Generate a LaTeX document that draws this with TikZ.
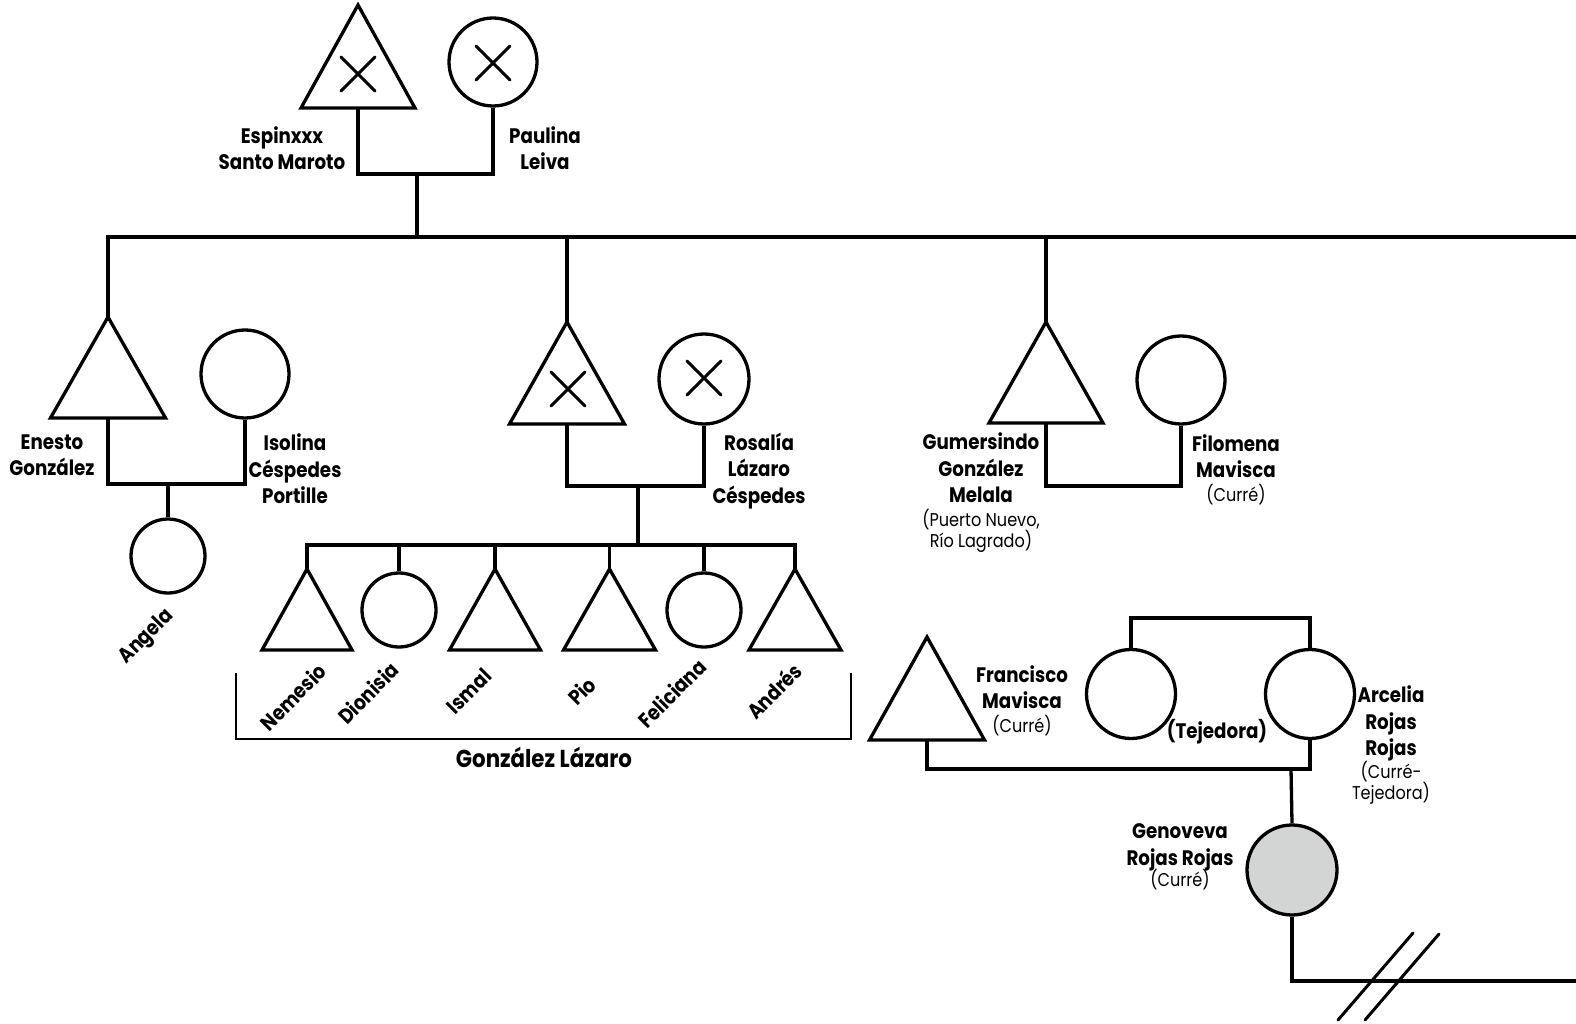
\documentclass[tikz,border=0pt]{standalone}
\usepackage{fontspec}
\setmainfont{Poppins}[FakeStretch=0.87]
\definecolor{genfill}{HTML}{D3D4D4}
\tikzset{
  ln/.style={line width=3.3pt},
  circ/.style={circle, draw, line width=3.3pt, inner sep=0pt, minimum size=#1},
  crs/.style={line width=3pt, line cap=round},
  nm/.style={font=\bfseries\fontsize{21}{26.5}\selectfont, align=center, inner sep=0pt},
  bracketline/.style={line width=1.3pt},
}
\newcommand\sub[1]{{\mdseries\fontsize{18.5}{21}\selectfont #1}}
\newcommand\Tri[5]{%
  \draw[ln, line join=miter] ({#2},{#3}) -- ({#2+#4},{#3+#5}) -- ({#2-#4},{#3+#5}) -- cycle;
  \coordinate (#1-t) at ({#2},{#3});
  \coordinate (#1-b) at ({#2},{#3+#5});}
\newcommand\Crs[2]{\draw[crs] ({#1-17},{#2-17}) -- ({#1+17},{#2+17}) ({#1-17},{#2+17}) -- ({#1+17},{#2-17});}
\begin{document}
\begin{tikzpicture}[x=1pt,y=-1pt]
\useasboundingbox (0,0) rectangle (1576,1024);
% ---- top couple
\Tri{esp}{358}{5}{57}{103}
\Crs{358}{74}
\node[circ=88pt] (pau) at (493,62) {};
\Crs{493}{63}
\coordinate (m1) at (417,174);
\coordinate (g1) at (417,237);
\coordinate (genR) at (1576,237);
\draw[ln] (esp-b) |- (m1) -| (pau.south);
\draw[ln] (m1) -- (g1);
% ---- generation line and Enesto couple
\Tri{ene}{108}{317}{57.5}{101}
\draw[ln] (ene-t) |- (genR);
\node[circ=88pt] (iso) at (245,374) {};
\coordinate (m2) at (168,484);
\draw[ln] (ene-b) |- (m2) -| (iso.south);
\node[circ=74pt] (ang) at (168,556) {};
\draw[ln] (m2) -- (ang.north);
% ---- Rosalia couple
\Tri{rm}{567}{322}{57.5}{102}
\Crs{568}{389}
\draw[ln] (rm-t) -- (rm-t |- g1);
\node[circ=90pt] (ros) at (704,379) {};
\Crs{704}{378}
\coordinate (m3) at (638,486);
\coordinate (c3) at (638,545);
\draw[ln] (rm-b) |- (m3) -| (ros.south);
\draw[ln] (m3) -- (c3);
% children
\Tri{nem}{307}{569}{45}{81}
\node[circ=74pt] (dio) at (399,610) {};
\Tri{ism}{495}{569}{45.5}{81}
\Tri{pio}{609.5}{569}{46}{81}
\node[circ=74pt] (fel) at (704,610) {};
\Tri{and}{795}{569}{46}{81}
\draw[ln] (nem-t) |- (c3) -| (and-t);
\draw[ln] (dio.north) -- (dio.north |- c3);
\draw[ln] (ism-t) -- (ism-t |- c3);
\draw[ln] (pio-t) -- (pio-t |- c3);
\draw[ln] (fel.north) -- (fel.north |- c3);
\draw[bracketline] (236,673) -- (236,739) -- (851,739) -- (851,673);
% ---- Gumersindo couple
\Tri{gum}{1046}{322}{57}{101}
\draw[ln] (gum-t) -- (gum-t |- g1);
\node[circ=88pt] (fil) at (1181,380) {};
\coordinate (m4) at (1113,486);
\draw[ln] (gum-b) |- (m4) -| (fil.south);
% ---- Francisco / Arcelia
\Tri{fra}{927}{637}{57.5}{103}
\node[circ=89pt] (tej) at (1131,694) {};
\node[circ=89pt] (arc) at (1310,694) {};
\coordinate (s5) at (1220,618);
\draw[ln] (tej.north) |- (s5) -| (arc.north);
\coordinate (m5) at (1291,769);
\draw[ln] (fra-b) |- (m5) -| (arc.south);
\node[circ=90pt, fill=genfill] (gen) at (1292,870) {};
\draw[ln] (m5) -- (gen.north);
\coordinate (gR) at (1576,981);
\draw[ln] (gen.south) |- (gR);
\draw[crs] (1338,1020) -- (1413,933) (1365,1020) -- (1439,934);
% ---- labels
\node[nm] (lEsp) at (282,148) {Espinxxx\\Santo Maroto};
\node[nm] (lPau) at (545,148) {Paulina\\Leiva};
\node[nm] (lEne) at (52,455) {Enesto\\González};
\node[nm] (lIso) at (295,469) {Isolina\\Céspedes\\Portille};
\node[nm, rotate=45] (lAng) at (147,637) {Angela};
\node[nm] (lRos) at (759,471) {Rosalía\\Lázaro\\Céspedes};
\node[nm, rotate=45] (lNem) at (293,697) {Nemesio};
\node[nm, rotate=45] (lDio) at (368,693) {Dionisia};
\node[nm, rotate=45] (lIsm) at (469,691) {Ismal};
\node[nm, rotate=45] (lPio) at (582,691) {Pio};
\node[nm, rotate=45] (lFel) at (672,693) {Feliciana};
\node[nm, rotate=45] (lAnd) at (774,691) {Andrés};
\node[nm, font=\bfseries\fontsize{24.5}{28}\selectfont] (lGL) at (544,757) {González Lázaro};
\node[nm] (lGum) at (981,493) {Gumersindo\\González\\Melala\\[-2.5pt]\sub{(Puerto Nuevo,}\\[-5.5pt]\sub{Río Lagrado)}};
\node[nm] (lFil) at (1236,470) {Filomena\\Mavisca\\[-2.5pt]\sub{(Curré)}};
\node[nm] (lFra) at (1022,701) {Francisco\\Mavisca\\[-2.5pt]\sub{(Curré)}};
\node[nm] (lTej) at (1217,732) {(Tejedora)};
\node[nm] (lArc) at (1391,745) {Arcelia\\Rojas\\Rojas\\[-4pt]\sub{(Curré-}\\[-5.5pt]\sub{Tejedora)}};
\node[nm] (lGen) at (1180,857) {Genoveva\\Rojas Rojas\\[-5pt]\sub{(Curré)}};
\end{tikzpicture}
\end{document}
